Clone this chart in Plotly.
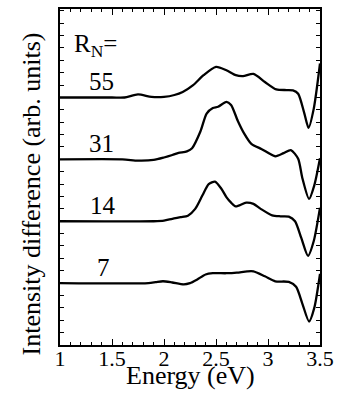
import plotly.graph_objects as go

# Data: energy (eV) and intensity difference (arb. units) per R_N series
labels = ["55", "31", "14", "7"]
offsets = [3, 2, 1, 0]

e55 = [1.0, 1.5, 1.62, 1.75, 1.88, 2.0, 2.1, 2.18, 2.28, 2.38, 2.5, 2.6, 2.69, 2.76, 2.86, 2.97, 3.08, 3.18, 3.24, 3.29, 3.35, 3.39, 3.44, 3.5]
i55 = [0, 0, 0.0, 0.05, 0.01, 0.01, 0.04, 0.09, 0.2, 0.36, 0.495, 0.44, 0.36, 0.345, 0.38, 0.25, 0.13, 0.12, 0.115, 0.06, -0.26, -0.49, -0.18, 0.55]

e31 = [1.0, 1.6, 1.75, 1.9, 2.0, 2.08, 2.14, 2.22, 2.27, 2.35, 2.41, 2.47, 2.52, 2.6, 2.645, 2.71, 2.77, 2.84, 2.94, 3.07, 3.15, 3.22, 3.29, 3.33, 3.395, 3.445, 3.5]
i31 = [0, 0, -0.02, -0.01, 0.03, 0.07, 0.105, 0.13, 0.18, 0.45, 0.74, 0.83, 0.85, 0.93, 0.88, 0.62, 0.42, 0.25, 0.165, 0.05, 0.1, 0.15, 0.01, -0.3, -0.64, -0.42, 0.02]

e14 = [1.0, 1.9, 2.0, 2.08, 2.16, 2.23, 2.3, 2.37, 2.43, 2.49, 2.55, 2.6, 2.645, 2.69, 2.79, 2.86, 2.93, 3.04, 3.12, 3.2, 3.26, 3.32, 3.385, 3.44, 3.5]
i14 = [0, 0, 0.01, 0.04, 0.065, 0.09, 0.2, 0.42, 0.6, 0.64, 0.53, 0.39, 0.3, 0.24, 0.3, 0.28, 0.2, 0.095, 0.08, 0.075, 0.0, -0.27, -0.56, -0.32, 0.22]

e7 = [1.0, 1.85, 1.92, 1.99, 2.08, 2.19, 2.25, 2.32, 2.4, 2.47, 2.6, 2.7, 2.8, 2.86, 2.97, 3.07, 3.2, 3.27, 3.33, 3.395, 3.445, 3.5]
i7 = [0, 0, 0.015, 0.03, 0.01, -0.02, 0.0, 0.06, 0.14, 0.16, 0.16, 0.17, 0.19, 0.19, 0.11, 0.03, 0.02, -0.06, -0.33, -0.62, -0.4, 0.15]

x_ticks = [1, 1.5, 2, 2.5, 3, 3.5]
x_ticklabels = ["1", "1.5", "2", "2.5", "3", "3.5"]

series = [(e55, i55), (e31, i31), (e14, i14), (e7, i7)]

FONT = "Liberation Serif"

fig = go.Figure()
for (ex, iy), off in zip(series, offsets):
    fig.add_trace(go.Scatter(
        x=ex, y=[v + off for v in iy], mode="lines",
        line=dict(color="black", width=2.3, shape="spline", smoothing=0.7),
        showlegend=False, hoverinfo="skip"))

annotations = []
label_x = [1.40, 1.40, 1.41, 1.42]
for lab, off, lx in zip(labels, offsets, label_x):
    annotations.append(dict(x=lx, y=off + 0.0, xref="x", yref="y", text=lab,
                            showarrow=False, xanchor="center", yanchor="bottom",
                            font=dict(family=FONT, size=25, color="black")))
annotations.append(dict(x=1.115, y=3.56, xref="x", yref="y", text="R<sub>N</sub>=",
                        showarrow=False, xanchor="left", yanchor="bottom",
                        font=dict(family=FONT, size=25, color="black")))
annotations.append(dict(x=-0.109, y=0.45, xref="paper", yref="paper",
                        text="Intensity difference (arb. units)", textangle=-90,
                        showarrow=False, xanchor="center", yanchor="middle",
                        font=dict(family=FONT, size=26, color="black")))
annotations.append(dict(x=0.5, y=-0.09, xref="paper", yref="paper",
                        text="Energy (eV)", showarrow=False,
                        xanchor="center", yanchor="middle",
                        font=dict(family=FONT, size=26, color="black")))

fig.update_layout(
    width=341, height=401,
    margin=dict(l=60, r=15, t=7, b=56),
    paper_bgcolor="white", plot_bgcolor="white",
    font=dict(family=FONT, color="black"),
    annotations=annotations,
    xaxis=dict(range=[1, 3.5], tickvals=x_ticks, ticktext=x_ticklabels,
               ticks="inside", ticklen=6, tickwidth=1, tickcolor="black",
               minor=dict(dtick=0.1, ticks="inside", ticklen=3, tickwidth=1, tickcolor="black"),
               showline=True, linecolor="black", linewidth=1.5, mirror="ticks",
               showgrid=False, zeroline=False, ticklabelstandoff=-7,
               tickfont=dict(family=FONT, size=22, color="black")),
    yaxis=dict(range=[-1, 4.43], tick0=-1, dtick=0.2,
               ticks="inside", ticklen=4, tickwidth=1, tickcolor="black",
               showticklabels=False,
               showline=True, linecolor="black", linewidth=1.5, mirror="ticks",
               showgrid=False, zeroline=False),
)

fig.write_html("out.html")
